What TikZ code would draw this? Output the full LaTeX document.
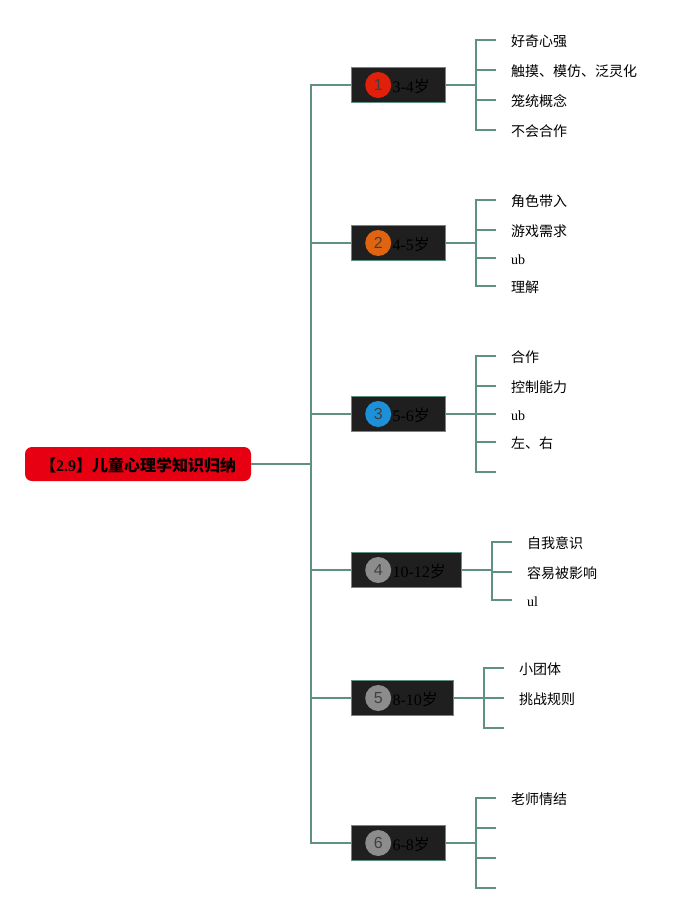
\documentclass[tikz,border=0pt]{standalone}
\usepackage{fontspec}
\setmainfont{Liberation Serif}
\setsansfont{Liberation Sans}
\newfontfamily\cjk{Noto Sans CJK SC}
\usetikzlibrary{positioning}
\definecolor{wirecol}{HTML}{5F9084}
\definecolor{boxcol}{HTML}{1F1F1F}
\definecolor{rootcol}{HTML}{E60012}
\definecolor{dotred}{HTML}{E0200A}
\definecolor{dotorange}{HTML}{E0640F}
\definecolor{dotblue}{HTML}{1C90D8}
\definecolor{dotgrey}{HTML}{8C8C8C}
\tikzset{
    wire/.style={draw=wirecol,line width=2pt},
    rootbox/.style={fill=rootcol,rounded corners=7pt,minimum width=226pt,minimum height=34pt,inner sep=0pt,text height=14pt,text depth=0pt,font=\fontsize{16}{16}\selectfont\bfseries},
    agebox/.style={draw=wirecol,fill=boxcol,line width=1pt,anchor=west,minimum height=35pt,inner sep=0pt},
    numdot/.style={circle,minimum size=26pt,inner sep=0pt,text=black!75,font=\sffamily\fontsize{16}{16}\selectfont},
    agelabel/.style={inner sep=0pt,text=black,yshift=-1pt,font=\fontsize{16}{16}\selectfont},
    leaf/.style={anchor=west,inner xsep=15pt,inner ysep=0pt,text height=12.5pt,text depth=0pt,font=\fontsize{14}{14}\selectfont},
}
\begin{document}
\begin{tikzpicture}[x=1pt,y=-1pt]
    \useasboundingbox (0,0) rectangle (697,913);
    \node[rootbox] (root) at (138,464) {{\cjk\bfseries 【}2.9{\cjk\bfseries 】儿童心理学知识归纳}};
    % age boxes
    \node[agebox,minimum width=94pt] (box1) at (351,85) {};
    \node[agebox,minimum width=94pt] (box2) at (351,243) {};
    \node[agebox,minimum width=94pt] (box3) at (351,414) {};
    \node[agebox,minimum width=110pt] (box4) at (351,570) {};
    \node[agebox,minimum width=102pt] (box5) at (351,698) {};
    \node[agebox,minimum width=94pt] (box6) at (351,843) {};
    \node[numdot,fill=dotred,right=14pt of box1.west] (dot1) {1};
    \node[numdot,fill=dotorange,right=14pt of box2.west] (dot2) {2};
    \node[numdot,fill=dotblue,right=14pt of box3.west] (dot3) {3};
    \node[numdot,fill=dotgrey,right=14pt of box4.west] (dot4) {4};
    \node[numdot,fill=dotgrey,right=14pt of box5.west] (dot5) {5};
    \node[numdot,fill=dotgrey,right=14pt of box6.west] (dot6) {6};
    \node[agelabel,right=1pt of dot1] (age1) {3-4{\cjk 岁}};
    \node[agelabel,right=1pt of dot2] (age2) {4-5{\cjk 岁}};
    \node[agelabel,right=1pt of dot3] (age3) {5-6{\cjk 岁}};
    \node[agelabel,right=1pt of dot4] (age4) {10-12{\cjk 岁}};
    \node[agelabel,right=1pt of dot5] (age5) {8-10{\cjk 岁}};
    \node[agelabel,right=1pt of dot6] (age6) {6-8{\cjk 岁}};
    % leaves
    \node[leaf] (a1) at (496,40) {\cjk 好奇心强};
    \node[leaf] (a2) at (496,70) {\cjk 触摸、模仿、泛灵化};
    \node[leaf] (a3) at (496,100) {\cjk 笼统概念};
    \node[leaf] (a4) at (496,130) {\cjk 不会合作};
    \node[leaf] (b1) at (496,200) {\cjk 角色带入};
    \node[leaf] (b2) at (496,230) {\cjk 游戏需求};
    \node[leaf] (b3) at (496,258) {ub};
    \node[leaf] (b4) at (496,286) {\cjk 理解};
    \node[leaf] (c1) at (496,356) {\cjk 合作};
    \node[leaf] (c2) at (496,386) {\cjk 控制能力};
    \node[leaf] (c3) at (496,414) {ub};
    \node[leaf] (c4) at (496,442) {\cjk 左、右};
    \coordinate (c5) at (496,472);
    \node[leaf] (d1) at (512,542) {\cjk 自我意识};
    \node[leaf] (d2) at (512,572) {\cjk 容易被影响};
    \node[leaf] (d3) at (512,600) {ul};
    \node[leaf] (e1) at (504,668) {\cjk 小团体};
    \node[leaf] (e2) at (504,698) {\cjk 挑战规则};
    \coordinate (e3) at (504,728);
    \node[leaf] (f1) at (496,798) {\cjk 老师情结};
    \coordinate (f2) at (496,828);
    \coordinate (f3) at (496,858);
    \coordinate (f4) at (496,888);
    % trunk
    \begin{scope}[wire]
        \draw (root.east) -- ++(60,0) |- (box1.west);
        \draw (root.east) -- ++(60,0) |- (box2.west);
        \draw (root.east) -- ++(60,0) |- (box3.west);
        \draw (root.east) -- ++(60,0) |- (box4.west);
        \draw (root.east) -- ++(60,0) |- (box5.west);
        \draw (root.east) -- ++(60,0) |- (box6.west);
        \draw (box1.east) -- ++(30,0) |- (a1.west);
        \draw (box1.east) -- ++(30,0) |- (a2.west);
        \draw (box1.east) -- ++(30,0) |- (a3.west);
        \draw (box1.east) -- ++(30,0) |- (a4.west);
        \draw (box2.east) -- ++(30,0) |- (b1.west);
        \draw (box2.east) -- ++(30,0) |- (b2.west);
        \draw (box2.east) -- ++(30,0) |- (b3.west);
        \draw (box2.east) -- ++(30,0) |- (b4.west);
        \draw (box3.east) -- ++(30,0) |- (c1.west);
        \draw (box3.east) -- ++(30,0) |- (c2.west);
        \draw (box3.east) -- ++(30,0) |- (c3.west);
        \draw (box3.east) -- ++(30,0) |- (c4.west);
        \draw (box3.east) -- ++(30,0) |- (c5);
        \draw (box4.east) -- ++(30,0) |- (d1.west);
        \draw (box4.east) -- ++(30,0) |- (d2.west);
        \draw (box4.east) -- ++(30,0) |- (d3.west);
        \draw (box5.east) -- ++(30,0) |- (e1.west);
        \draw (box5.east) -- ++(30,0) |- (e2.west);
        \draw (box5.east) -- ++(30,0) |- (e3);
        \draw (box6.east) -- ++(30,0) |- (f1.west);
        \draw (box6.east) -- ++(30,0) |- (f2);
        \draw (box6.east) -- ++(30,0) |- (f3);
        \draw (box6.east) -- ++(30,0) |- (f4);
    \end{scope}
\end{tikzpicture}
\end{document}
